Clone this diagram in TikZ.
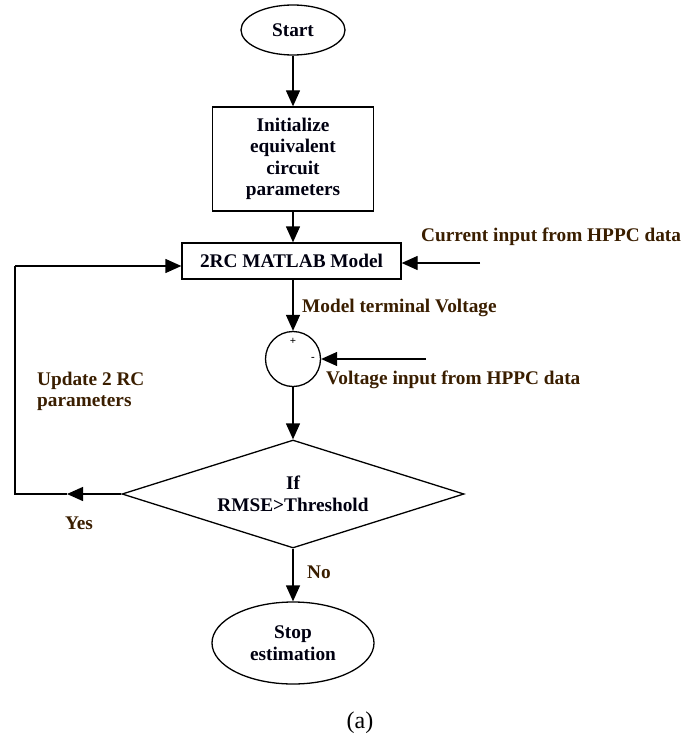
\documentclass[tikz,border=0pt]{standalone}
\usepackage{fontspec}
\setmainfont{Liberation Serif}
\usetikzlibrary{shapes.geometric,arrows.meta}
\definecolor{lbl}{RGB}{58,30,0}
\definecolor{ink}{RGB}{0,0,16}
\begin{document}
\begin{tikzpicture}[x=1bp,y=-1bp,
  every node/.style={font=\bfseries\fontsize{19.3bp}{21.5bp}\selectfont, text=ink, inner sep=0pt},
  blk/.style={draw, line width=1.3bp},
  arr/.style={line width=1.3bp, -{Triangle[length=16bp,width=14bp]}},
  ln/.style={line width=1.3bp},
  lab/.style={text=lbl},
  sgn/.style={font=\bfseries\fontsize{11bp}{12bp}\selectfont, text=black}]
\useasboundingbox (0,0) rectangle (681,740);
\node[blk, ellipse, minimum width=104bp, minimum height=50bp] (start) at (293,30) {Start};
\node[blk, rectangle, minimum width=161bp, minimum height=104bp, align=center] (init) at (293,159)
  {Initialize\\equivalent\\circuit\\parameters};
\node[blk, rectangle, minimum width=219bp, minimum height=36bp] (model) at (291.5,261) {2RC MATLAB Model};
\node[blk, circle, minimum size=55bp] (sum) at (293,359) {};
\node[sgn] (plus) at (293,341) {+};
\node[sgn] (minus) at (313,359) {-};
\node[blk, diamond, aspect=3.17, minimum width=342bp, minimum height=108bp, align=center] (dec) at (293,494)
  {If\\RMSE>Threshold};
\node[blk, ellipse, minimum width=162bp, minimum height=82bp, align=center] (stop) at (293,643)
  {Stop\\estimation};

\coordinate (curin) at (480,263);
\coordinate (voltin) at (426,359);
\coordinate (ya) at (67,494);
\coordinate (fbb) at (15,494);
\coordinate (fbt) at (15,266);

\draw[arr] (start.south) -- (init.north);
\draw[arr] (init.south) -- (init.south |- model.north);
\draw[arr] (curin) -- (curin -| model.east);
\draw[arr] (model.south -| sum.north) -- (sum.north);
\draw[arr] (voltin) -- (sum.east);
\draw[arr] (sum.south) -- (dec.north);
\draw[arr] (dec.south) -- (stop.north);
\draw[arr] (dec.west) -- (ya);
\draw[ln] (ya) -- (fbb) -- (fbt);
\draw[arr] (fbt) -- (fbt -| model.west);

\node[lab, anchor=west] (curlab) at (421,237) {Current input from HPPC data};
\node[lab, anchor=west] (mtv) at (302,308) {Model terminal Voltage};
\node[lab, anchor=west] (vlab) at (326,380) {Voltage input from HPPC data};
\node[lab, anchor=west, align=left] (upd) at (37,391.5) {Update 2 RC\\parameters};
\node[lab] (yes) at (79,523) {Yes};
\node[lab] (no) at (319,572) {No};
\node[font=\fontsize{24bp}{26bp}\selectfont, text=black] (cap) at (360,723) {(a)};
\end{tikzpicture}
\end{document}
